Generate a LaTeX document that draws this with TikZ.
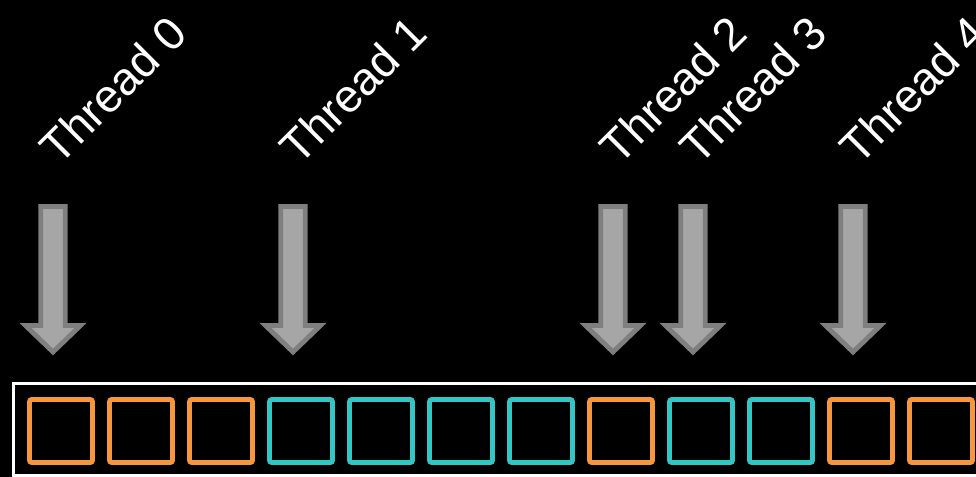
\documentclass[tikz,border=0pt]{standalone}
\usepackage{fontspec}
\setmainfont{Liberation Sans}
\definecolor{cellorange}{HTML}{F7963A}
\definecolor{cellteal}{HTML}{33C6C6}
\definecolor{arrowfill}{HTML}{A6A6A6}
\definecolor{arrowedge}{HTML}{7F7F7F}
\begin{document}
\begin{tikzpicture}[x=0.5pt,y=-0.5pt,
  cell/.style={line width=2.3pt, rounded corners=1pt, minimum width=31.5pt,
    minimum height=31.5pt, inner sep=0pt, outer sep=0pt},
  ptr/.style={fill=arrowfill, draw=arrowedge, line width=2.4pt, line join=miter},
  tlabel/.style={text=white, font=\fontsize{23}{27}\selectfont, rotate=45,
    anchor=base west, inner sep=0pt}]
  % background and frame
  \fill[black] (0,0) rectangle (976,477);
  \useasboundingbox (0,0) rectangle (976,477);
  \clip (0,0) rectangle (976,477);
  \draw[white, line width=1.5pt] (13,383) rectangle (1000,475.5);
  % array cells
  \foreach \c [count=\i from 0] in {cellorange,cellorange,cellorange,cellteal,cellteal,cellteal,cellteal,cellorange,cellteal,cellteal,cellorange,cellorange}
    \node[cell, draw=\c] (c\i) at ({61+80*\i},431) {};
  % thread pointers and labels
  \foreach \x/\n in {53/0,293/1,613/2,693/3,853/4} {
    \draw[ptr] (\x-12.3,206.5) -- (\x+12.3,206.5) -- (\x+12.3,325.5)
      -- (\x+27.5,325.5) -- (\x,352) -- (\x-27.5,325.5) -- (\x-12.3,325.5) -- cycle;
    \node[tlabel] (t\n) at (\x+6,167) {Thread \n};
  }
\end{tikzpicture}
\end{document}
